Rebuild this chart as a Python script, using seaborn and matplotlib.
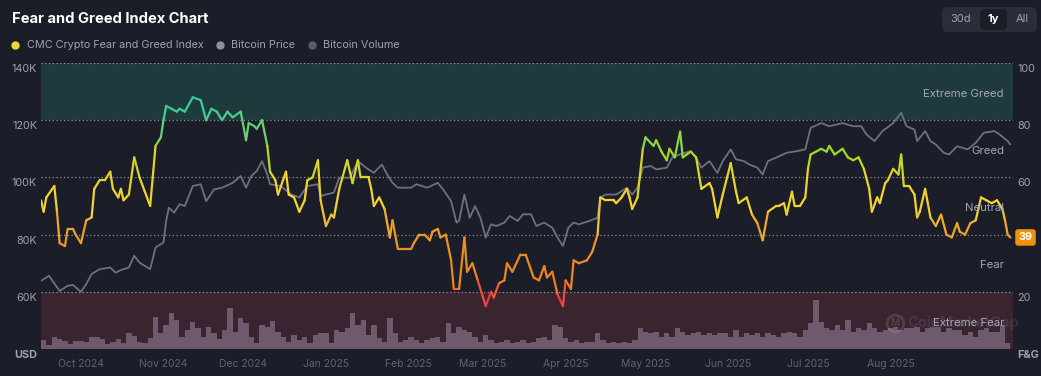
import numpy as np
import pandas as pd
import matplotlib
matplotlib.use("Agg")
import matplotlib.pyplot as plt
import matplotlib.dates as mdates
import matplotlib.transforms as mtransforms
from matplotlib.collections import LineCollection
from matplotlib.colors import LinearSegmentedColormap, Normalize
from matplotlib.patches import FancyBboxPatch
from matplotlib.lines import Line2D
import seaborn as sns

# ---------------- data ----------------
START = "2024-09-16"

fg_day = [0, 1, 2, 5, 6, 7, 9, 10, 12, 13, 15, 17, 19, 20, 22, 24, 26, 27, 29, 30,
          31, 33, 35, 37, 39, 41, 43, 45, 46, 47, 49, 51, 52, 54, 57, 60, 62, 64, 66, 68,
          70, 72, 75, 77, 78, 80, 81, 83, 85, 86, 88, 89, 92, 93, 95, 97, 99, 100, 102, 104,
          105, 107, 109, 110, 112, 115, 117, 119, 120, 123,
          124, 125, 127, 129, 131, 132, 134, 136, 139, 140, 142, 144, 146, 147, 149, 150, 152, 154, 155, 157,
          159, 160, 162, 164, 167, 169, 170, 172, 174, 175, 177, 180, 182, 185, 187, 189, 190, 192, 194, 196,
          197, 199, 200, 202, 205, 207, 209, 210, 212, 215, 216, 218, 220, 221, 222, 224, 226, 227, 230, 231,
          233, 235, 236, 238, 240,
          241, 244, 246, 248, 251, 252, 254, 256, 259, 261, 262, 265, 267, 269, 271, 273, 276, 277, 279, 280,
          282, 283, 285, 287, 288, 289, 291, 293, 295, 296, 298, 301, 303, 305, 307, 309, 311, 312, 314, 315,
          317, 318, 320, 322, 323, 324, 326, 328, 329, 330, 332, 333, 334, 336, 338, 340, 342, 344, 345, 347,
          349, 351, 353, 355, 357, 359, 361, 362, 363, 364]
fg_value = [52, 48, 53, 57, 48, 37, 36, 42, 42, 40, 37, 45, 46, 56, 59, 59, 62, 56, 53, 56,
            52, 54, 67, 60, 55, 50, 71, 74, 80, 85, 84, 83, 84, 83, 88, 87, 80, 84, 83, 80,
            83, 81, 83, 73, 79, 78, 77, 80, 71, 62, 59, 54, 62, 54, 53, 48, 52, 59, 60, 66,
            52, 43, 47, 46, 56, 66, 58, 66, 60, 60,
            56, 50, 53, 49, 39, 45, 35, 35, 35, 37, 40, 40, 38, 41, 42, 39, 40, 31, 21, 21,
            39, 27, 30, 24, 15, 20, 18, 23, 24, 30, 27, 33, 33, 25, 24, 29, 25, 27, 19, 15,
            24, 21, 31, 30, 31, 34, 40, 53, 52, 52, 51, 53, 56, 53, 49, 53, 70, 74, 71, 73,
            69, 66, 70, 67, 76,
            67, 69, 67, 56, 58, 56, 46, 54, 65, 55, 51, 53, 47, 44, 38, 48, 50, 50, 51, 47,
            55, 50, 50, 53, 63, 68, 69, 70, 69, 71, 68, 70, 67, 66, 67, 63, 56, 48, 53, 51,
            58, 59, 63, 61, 68, 57, 57, 54, 46, 48, 56, 51, 46, 43, 47, 40, 39, 44, 41, 40,
            44, 45, 53, 52, 51, 52, 49, 45, 40, 39]

price_day = [0, 3, 7, 10, 12, 15, 17, 19, 22, 26, 28, 30, 33, 35, 37, 41, 43, 46, 47, 48,
             50, 52, 54, 57, 60, 62, 65, 68, 72, 75, 77, 79, 81, 83, 85, 86, 90, 94, 97, 100,
             104, 105, 107, 110, 112, 116, 119, 122, 125, 128, 130, 132, 134, 139, 141, 145, 149, 151, 154, 156,
             157, 159, 161, 163, 165, 167, 169, 171, 174, 176, 179, 181, 184, 186, 189, 192, 194, 196, 198, 200,
             202, 206, 209, 210, 212, 216, 220, 222, 224, 226, 229, 231, 235, 237, 240, 244, 246, 248, 251, 254,
             256, 259, 261, 264, 266, 269, 271, 273, 276, 280, 284, 287, 289, 293, 296, 301, 305, 308, 310, 313,
             316, 320, 323, 325, 328, 329, 332, 334, 336, 339, 341, 344, 348, 351, 354, 358, 360, 363, 364]
price_k = [63.8, 65.6, 60.3, 62.1, 62.4, 60.0, 62.7, 66.2, 67.9, 68.5, 66.7, 67.6, 68.5, 72.6, 70.2, 67.9, 75.5, 77.2, 84.8, 89.4,
           87.7, 90.6, 90.0, 97.0, 97.6, 91.7, 95.8, 96.4, 98.1, 100.5, 96.4, 100.5, 102.2, 105.7, 101.0, 97.6, 97.0, 94.0, 93.0, 97.0,
           97.6, 93.5, 94.0, 94.7, 99.9, 99.9, 105.7, 103.4, 101.6, 104.5, 101.0, 98.1, 96.4, 96.4, 97.6, 96.4, 98.1, 95.8, 91.7, 84.2,
           84.8, 94.0, 85.9, 90.0, 85.9, 78.9, 83.6, 83.0, 84.2, 86.5, 84.8, 87.1, 87.1, 83.0, 84.2, 82.4, 78.9, 76.0, 82.4, 84.2,
           83.6, 84.8, 85.9, 92.9, 94.0, 94.0, 96.4, 94.0, 96.4, 103.4, 104.0, 102.8, 103.4, 106.9, 108.1, 109.2, 106.9, 103.4, 105.7, 101.6,
           105.7, 109.8, 106.3, 105.7, 104.5, 103.4, 101.0, 105.7, 106.9, 108.6, 109.2, 109.8, 117.3, 119.0, 117.9, 119.0, 117.9, 117.9, 115.0, 112.7,
           116.2, 119.0, 122.6, 117.9, 116.7, 112.7, 116.2, 112.7, 111.5, 108.6, 108.0, 110.9, 109.8, 112.1, 115.6, 116.2, 115.0, 112.7, 111.5]

# daily volume (bn USD), one value per 2-day bucket
VOLUME_STEP_DAYS = 2
volume_bn = [27, 12, 37, 29, 25, 14, 24, 24, 22, 37, 35, 29, 14, 22, 29, 19, 47, 39, 20, 17,
             32, 97, 47, 72, 109, 87, 37, 57, 82, 62, 37, 67, 47, 29, 57, 122, 52, 92, 77, 37,
             17, 72, 67, 85, 52, 37, 22, 42, 27, 37, 17, 42, 47, 47, 17, 57, 52, 62, 107, 72,
             87, 42,
             72, 32, 22, 92, 47, 22, 27, 37, 27, 17, 27, 32, 37, 22, 77, 47, 67, 57, 52, 37,
             22, 42, 27, 17, 22, 27, 17, 22, 27, 17, 22, 32, 37, 27, 72, 67, 32, 22, 27, 17,
             22, 22, 47, 27, 17, 22, 17, 22, 17, 27, 62, 52, 47, 52, 37, 47, 37, 62, 52, 42,
             47, 52, 42, 47, 42, 47, 47, 37, 57, 37, 47, 42, 47, 37, 47, 42, 37, 47, 52, 47,
             37, 57, 77, 147, 82, 62, 57, 72, 57, 87, 52, 62, 57, 77, 62, 52, 57, 62, 67, 57,
             62, 62, 67, 52, 62, 67, 67, 52, 62, 57, 57, 42, 52, 37, 57, 62, 52, 52, 72, 17]

zone_names = ["Extreme Fear", "Fear", "Neutral", "Greed", "Extreme Greed"]
zone_mid = [10, 30, 50, 70, 90]
price_ticks_k = [40, 60, 80, 100, 120, 140]
price_tick_labels = ["USD", "60K", "80K", "100K", "120K", "140K"]
fg_ticks = [0, 20, 40, 60, 80, 100]
fg_tick_labels = ["F&G", "20", "", "60", "80", "100"]
month_ticks = ["2024-10-01", "2024-11-01", "2024-12-01", "2025-01-01", "2025-02-01", "2025-03-01",
               "2025-04-01", "2025-05-01", "2025-06-01", "2025-07-01", "2025-08-01"]
latest_fg = 39
legend_names = ["CMC Crypto Fear and Greed Index", "Bitcoin Price", "Bitcoin Volume"]
range_buttons = ["30d", "1y", "All"]
watermark = "CoinMarketCap"

# ---------------- style ----------------
BG = "#1b1e29"
TXT = "#9ea2ae"
sns.set_style("dark", {"axes.facecolor": BG, "figure.facecolor": BG})
plt.rcParams["font.family"] = ["Inter", "DejaVu Sans"]

start = pd.Timestamp(START)
fg_dates = start + pd.to_timedelta(fg_day, unit="D")
price_dates = start + pd.to_timedelta(price_day, unit="D")
vol_dates = start + pd.to_timedelta(np.arange(len(volume_bn)) * VOLUME_STEP_DAYS, unit="D")

W, H = 1041, 376
fig = plt.figure(figsize=(W / 100, H / 100), dpi=100, facecolor=BG)
L, R, T, B = 41, 1013, 63, 349
ax = fig.add_axes([L / W, 1 - B / H, (R - L) / W, (B - T) / H])
ax.set_facecolor(BG)
ax.set_ylim(0, 100)
xmin, xmax = start, start + pd.Timedelta(days=365)
ax.set_xlim(xmin, xmax)

ax.axhspan(80, 100, color="#1e3a3c", lw=0, zorder=0)
ax.axhspan(0, 20, color="#3a2430", lw=0, zorder=0)
for v in fg_ticks:
    ax.axhline(v, color="#c4c8d2", lw=0.9, ls=(0, (1, 2)), alpha=0.65, zorder=1)

# volume
ax_vol = ax.twinx()
ax_vol.bar(vol_dates, volume_bn, width=VOLUME_STEP_DAYS, align="edge",
           color="#6e5a6c", linewidth=0)
ax_vol.set_ylim(0, 858)

# watermark (faint, sits under the lines)
ax_vol.text((907 - L) / (R - L), 0.092, watermark, transform=ax_vol.transAxes,
            fontsize=10.5, fontweight="bold", color="white", alpha=0.09, va="center")
fig.add_artist(Line2D([895 / W], [1 - 323 / H], marker="o", ms=12, mfc="none",
                      mec=(1, 1, 1, 0.12), mew=2, transform=fig.transFigure))
fig.text(895 / W, 1 - 323.5 / H, "M", fontsize=7, fontweight="bold", ha="center",
         va="center", color="white", alpha=0.12)

# price
ax_price = ax.twinx()
sns.lineplot(x=price_dates, y=np.array(price_k) * 1000, ax=ax_price,
             color="#6d717e", linewidth=1.3)
ax_price.set_ylim(40000, 140000)

# fear & greed gradient line
ax_fg = ax.twinx()
ax_fg.set_ylim(0, 100)
cmap = LinearSegmentedColormap.from_list("fg", [
    (0.0, "#ea3943"), (0.175, "#ea3943"), (0.23, "#ec7f1e"), (0.40, "#ec9a24"),
    (0.50, "#f2d430"), (0.58, "#f2d430"), (0.68, "#a8d820"), (0.78, "#5fd07c"),
    (0.85, "#36cb98"), (1.0, "#2ecf9c")])
xn = mdates.date2num(fg_dates)
yv = np.array(fg_value, dtype=float)
pts = np.column_stack([xn, yv]).reshape(-1, 1, 2)
segs = np.concatenate([pts[:-1], pts[1:]], axis=1)
lc = LineCollection(segs, cmap=cmap, norm=Normalize(0, 100), linewidth=1.6,
                    capstyle="round", joinstyle="round")
lc.set_array((yv[:-1] + yv[1:]) / 2)
ax_fg.add_collection(lc)

for a in (ax, ax_vol, ax_price, ax_fg):
    a.set_xlim(xmin, xmax)
    for s in a.spines.values():
        s.set_visible(False)
    a.set_ylabel("")
    a.set_xlabel("")
    a.tick_params(axis="y", length=0, labelleft=False, labelright=False)
    a.tick_params(axis="x", length=0)
    a.grid(False)

ax.set_xticks(pd.to_datetime(month_ticks))
ax.xaxis.set_major_formatter(mdates.DateFormatter("%b %Y"))
ax.tick_params(axis="x", colors="#5f6370", labelsize=7.5, pad=7)
for a in (ax_vol, ax_price, ax_fg):
    a.tick_params(axis="x", labelbottom=False)

# y tick labels (drawn just below each gridline)
off = mtransforms.ScaledTranslation(0, -6 / 100, fig.dpi_scale_trans)
tl = mtransforms.blended_transform_factory(ax_price.transAxes, ax_price.transData) + off
for v, lab in zip(price_ticks_k, price_tick_labels):
    ax_price.text(-4 / (R - L), v * 1000, lab, transform=tl, ha="right", va="center",
                  fontsize=7.8, color=TXT, fontweight="bold" if lab == "USD" else "normal")
tr = mtransforms.blended_transform_factory(ax_fg.transAxes, ax_fg.transData) + off
for v, lab in zip(fg_ticks, fg_tick_labels):
    ax_fg.text(1 + 4 / (R - L), v, lab, transform=tr, ha="left", va="center",
               fontsize=7.8, color=TXT, fontweight="bold" if lab == "F&G" else "normal")

# zone labels
tz = mtransforms.blended_transform_factory(ax_fg.transAxes, ax_fg.transData)
for name, m in zip(zone_names, zone_mid):
    ax_fg.text((1004 - L) / (R - L), m - 0.8, name, transform=tz, ha="right", va="center",
               fontsize=8.2, color="#a3a7b3", zorder=5)

# latest value badge
ax_fg.text(1 + 5.5 / (R - L), latest_fg, str(latest_fg), transform=tz, ha="left", va="center",
           fontsize=7.8, fontweight="bold", color="white", zorder=10, clip_on=False,
           bbox=dict(boxstyle="round,pad=0.3,rounding_size=0.25", fc="#f0920b", ec="none"))

# title and legend
fig.text(12 / W, 1 - 19 / H, "Fear and Greed Index Chart", fontsize=10.6,
         fontweight="bold", color="white", va="center")
leg_dot_x = [15, 220, 312]
leg_txt_x = [27, 231, 323]
leg_col = ["#f0d43a", "#8d909a", "#5b5e69"]
for name, dx, tx, c in zip(legend_names, leg_dot_x, leg_txt_x, leg_col):
    fig.add_artist(Line2D([dx / W], [1 - 45 / H], marker="o", ms=5, color=c, lw=0,
                          transform=fig.transFigure))
    fig.text(tx / W, 1 - 45 / H, name, fontsize=7.8, color=TXT, va="center")

# range buttons
pix = mtransforms.IdentityTransform()
fig.add_artist(FancyBboxPatch((942, H - 32), 95, 25, boxstyle="round,pad=0,rounding_size=6",
                              fc="#2a2e3b", ec="none", transform=pix))
fig.add_artist(FancyBboxPatch((980, H - 30), 27, 21, boxstyle="round,pad=0,rounding_size=5",
                              fc="#1a1d27", ec="none", transform=pix))
for lab, cx in zip(range_buttons, [961, 993, 1022]):
    fig.text(cx / W, 1 - 19.5 / H, lab, ha="center", va="center", fontsize=8,
             color="white" if lab == "1y" else "#9ea2ae",
             fontweight="bold" if lab == "1y" else "normal")

fig.savefig("out.png", dpi=100, facecolor=BG)
